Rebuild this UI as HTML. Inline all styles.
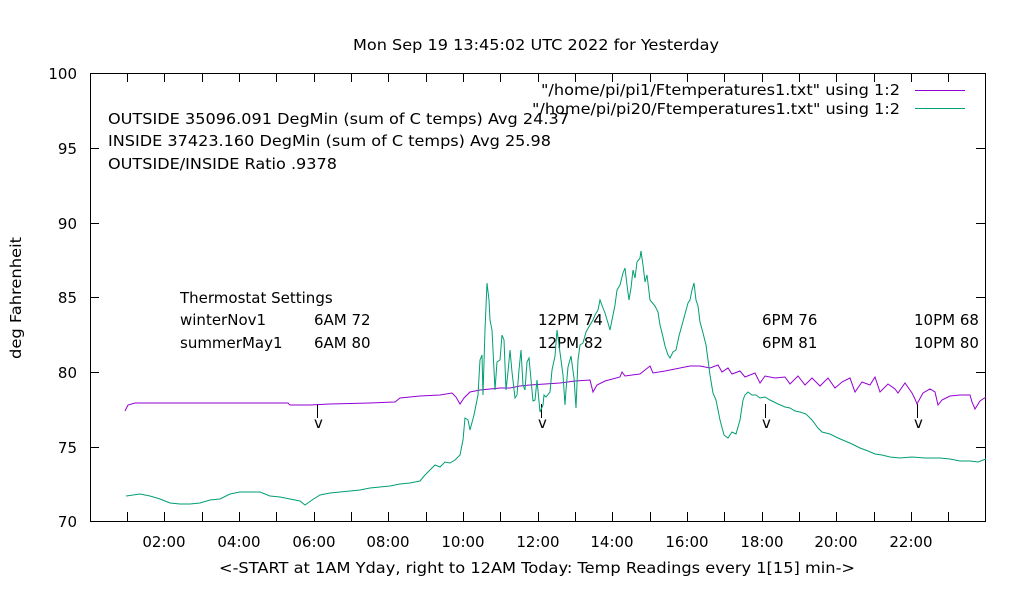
<!DOCTYPE html>
<html><head><style>body{margin:0;background:#fff}svg{display:block}text{font-family:"DejaVu Sans","Liberation Sans",sans-serif;font-size:15px;fill:#000}</style></head>
<body>
<svg width="1020" height="600" viewBox="0 0 1020 600" xmlns="http://www.w3.org/2000/svg">
<rect width="1020" height="600" fill="#fff"/>
<text x="536" y="50" text-anchor="middle" textLength="366" lengthAdjust="spacingAndGlyphs">Mon Sep 19 13:45:02 UTC 2022 for Yesterday</text>
<g id="ticks" stroke="#000" stroke-width="1">
<rect x="90.5" y="73.5" width="895" height="448" fill="none"/>
<path d="M90 148.5h9M976 148.5h9M90 223.5h9M976 223.5h9M90 297.5h9M976 297.5h9M90 372.5h9M976 372.5h9M90 447.5h9M976 447.5h9"/>
<path d="M127.5 521v-9M164.5 521v-9M202.5 521v-9M239.5 521v-9M276.5 521v-9M314.5 521v-9M351.5 521v-9M388.5 521v-9M426.5 521v-9M463.5 521v-9M500.5 521v-9M538.5 521v-9M575.5 521v-9M612.5 521v-9M650.5 521v-9M687.5 521v-9M724.5 521v-9M762.5 521v-9M799.5 521v-9M836.5 521v-9M874.5 521v-9M911.5 521v-9M948.5 521v-9"/>
<path d="M127.5 73v9M164.5 73v9M202.5 73v9M239.5 73v9M276.5 73v9M314.5 73v9M351.5 73v9M388.5 73v9M426.5 73v9M463.5 73v9M500.5 73v9M538.5 73v9M575.5 73v9M612.5 73v9M650.5 73v9M687.5 73v9M724.5 73v9M762.5 73v9M799.5 73v9M836.5 73v9M874.5 73v9M911.5 73v9M948.5 73v9"/>
</g>
<g text-anchor="end">
<text x="77" y="79">100</text><text x="77" y="154">95</text><text x="77" y="229">90</text><text x="77" y="303">85</text><text x="77" y="378">80</text><text x="77" y="453">75</text><text x="77" y="527">70</text>
</g>
<g text-anchor="middle">
<text x="164" y="547">02:00</text><text x="239" y="547">04:00</text><text x="314" y="547">06:00</text><text x="388" y="547">08:00</text><text x="463" y="547">10:00</text><text x="538" y="547">12:00</text><text x="612" y="547">14:00</text><text x="687" y="547">16:00</text><text x="762" y="547">18:00</text><text x="836" y="547">20:00</text><text x="911" y="547">22:00</text>
</g>
<text x="537" y="573" text-anchor="middle" textLength="636" lengthAdjust="spacingAndGlyphs">&lt;-START at 1AM Yday, right to 12AM Today:  Temp Readings every 1[15] min-&gt;</text>
<text transform="translate(21,298) rotate(-90)" text-anchor="middle" textLength="122" lengthAdjust="spacingAndGlyphs">deg Fahrenheit</text>
<text x="108" y="124" textLength="461" lengthAdjust="spacingAndGlyphs">OUTSIDE 35096.091 DegMin (sum of C temps) Avg 24.37</text>
<text x="108" y="146" textLength="443" lengthAdjust="spacingAndGlyphs">INSIDE 37423.160 DegMin (sum of C temps) Avg 25.98</text>
<text x="108" y="169" textLength="229" lengthAdjust="spacingAndGlyphs">OUTSIDE/INSIDE Ratio .9378</text>
<text x="900" y="95" text-anchor="end" textLength="359" lengthAdjust="spacingAndGlyphs">"/home/pi/pi1/Ftemperatures1.txt" using 1:2</text>
<text x="900" y="114" text-anchor="end" textLength="368" lengthAdjust="spacingAndGlyphs">"/home/pi/pi20/Ftemperatures1.txt" using 1:2</text>
<path d="M915 90.5h50" stroke="#9400d3"/><path d="M915 108.5h50" stroke="#009e73"/>
<text x="180" y="303">Thermostat Settings</text>
<text x="180" y="325">winterNov1</text><text x="314" y="325">6AM 72</text><text x="538" y="325">12PM 74</text><text x="762" y="325">6PM 76</text><text x="914" y="325">10PM 68</text>
<text x="180" y="348">summerMay1</text><text x="314" y="348">6AM 80</text><text x="538" y="348">12PM 82</text><text x="762" y="348">6PM 81</text><text x="914" y="348">10PM 80</text>
<g stroke="#000"><path d="M317.5 404v14M541.5 404v14M765.5 404v14M917.5 404v14"/></g>
<g font-size="14"><text x="314" y="428">v</text><text x="538" y="428">v</text><text x="762" y="428">v</text><text x="914" y="428">v</text></g>
<polyline fill="none" stroke="#9400d3" stroke-width="1" points="125,411 128,405 135,403 200,403 288,403 290,405 310,405 330,404 370,403 395,402 400,398 420,396 440,395 452,393 456,397 460,404 464,398 470,392 480,390 490,389 500,388 510,388 520,386 530,385 545,384 560,383 575,381 590,380 593,392 597,385 605,381 620,377 622,372 625,376 640,374 650,366 653,373 665,371 680,368 690,366 700,366 710,368 718,365 722,372 728,368 732,374 740,371 745,377 755,373 760,383 765,376 775,378 785,377 790,384 798,376 805,385 812,378 820,386 828,378 835,388 842,382 850,378 855,392 862,382 870,385 875,377 880,392 888,384 895,389 898,393 905,383 912,393 915,399 917,404 923,393 930,389 935,392 938,405 942,400 950,396 960,395 970,395 972,402 975,409 980,401 986,397"/>
<polyline fill="none" stroke="#009e73" stroke-width="1" points="126,496 140,494 150,496 160,499 170,503 180,504 190,504 200,503 210,500 220,499 230,494 240,492 250,492 260,492 270,496 280,497 290,499 300,501 305,505 312,500 320,495 330,493 340,492 350,491 360,490 370,488 380,487 390,486 400,484 410,483 420,481 425,475 430,470 435,465 440,467 445,462 450,463 455,460 460,455 463,440 465,418 468,420 470,430 474,415 478,395 480,360 482,355 483,395 485,330 487,283 489,300 490,320 492,330 495,390 497,362 500,360 502,335 504,340 506,390 508,372 510,350 512,372 515,398 517,395 519,370 521,350 523,385 525,390 527,362 529,358 533,401 535,400 537,380 540,412 543,405 544,395 546,397 550,392 552,370 555,356 557,330 559,345 561,360 563,375 565,405 566,390 568,367 571,356 574,378 576,408 578,360 580,345 583,343 586,332 590,325 593,320 595,315 598,310 600,300 603,308 605,313 608,323 610,330 612,320 615,305 617,290 620,285 623,273 625,268 627,285 629,300 631,288 633,270 635,278 637,262 640,258 641,251 643,265 645,282 647,275 650,300 655,306 658,312 660,325 663,337 665,346 668,355 670,358 673,352 676,350 679,336 682,325 685,314 688,303 690,300 692,290 694,283 696,300 698,306 700,322 703,333 706,345 710,375 713,393 716,400 720,420 724,435 728,438 732,432 736,434 740,420 743,400 745,395 748,392 752,395 756,395 760,398 765,397 770,400 778,404 785,407 790,408 795,411 800,412 806,414 812,420 818,428 822,432 830,434 838,438 845,441 852,444 860,448 868,451 875,454 882,455 890,457 900,458 912,457 925,458 940,458 950,459 960,461 970,461 978,462 986,459"/>
</svg>
</body></html>
